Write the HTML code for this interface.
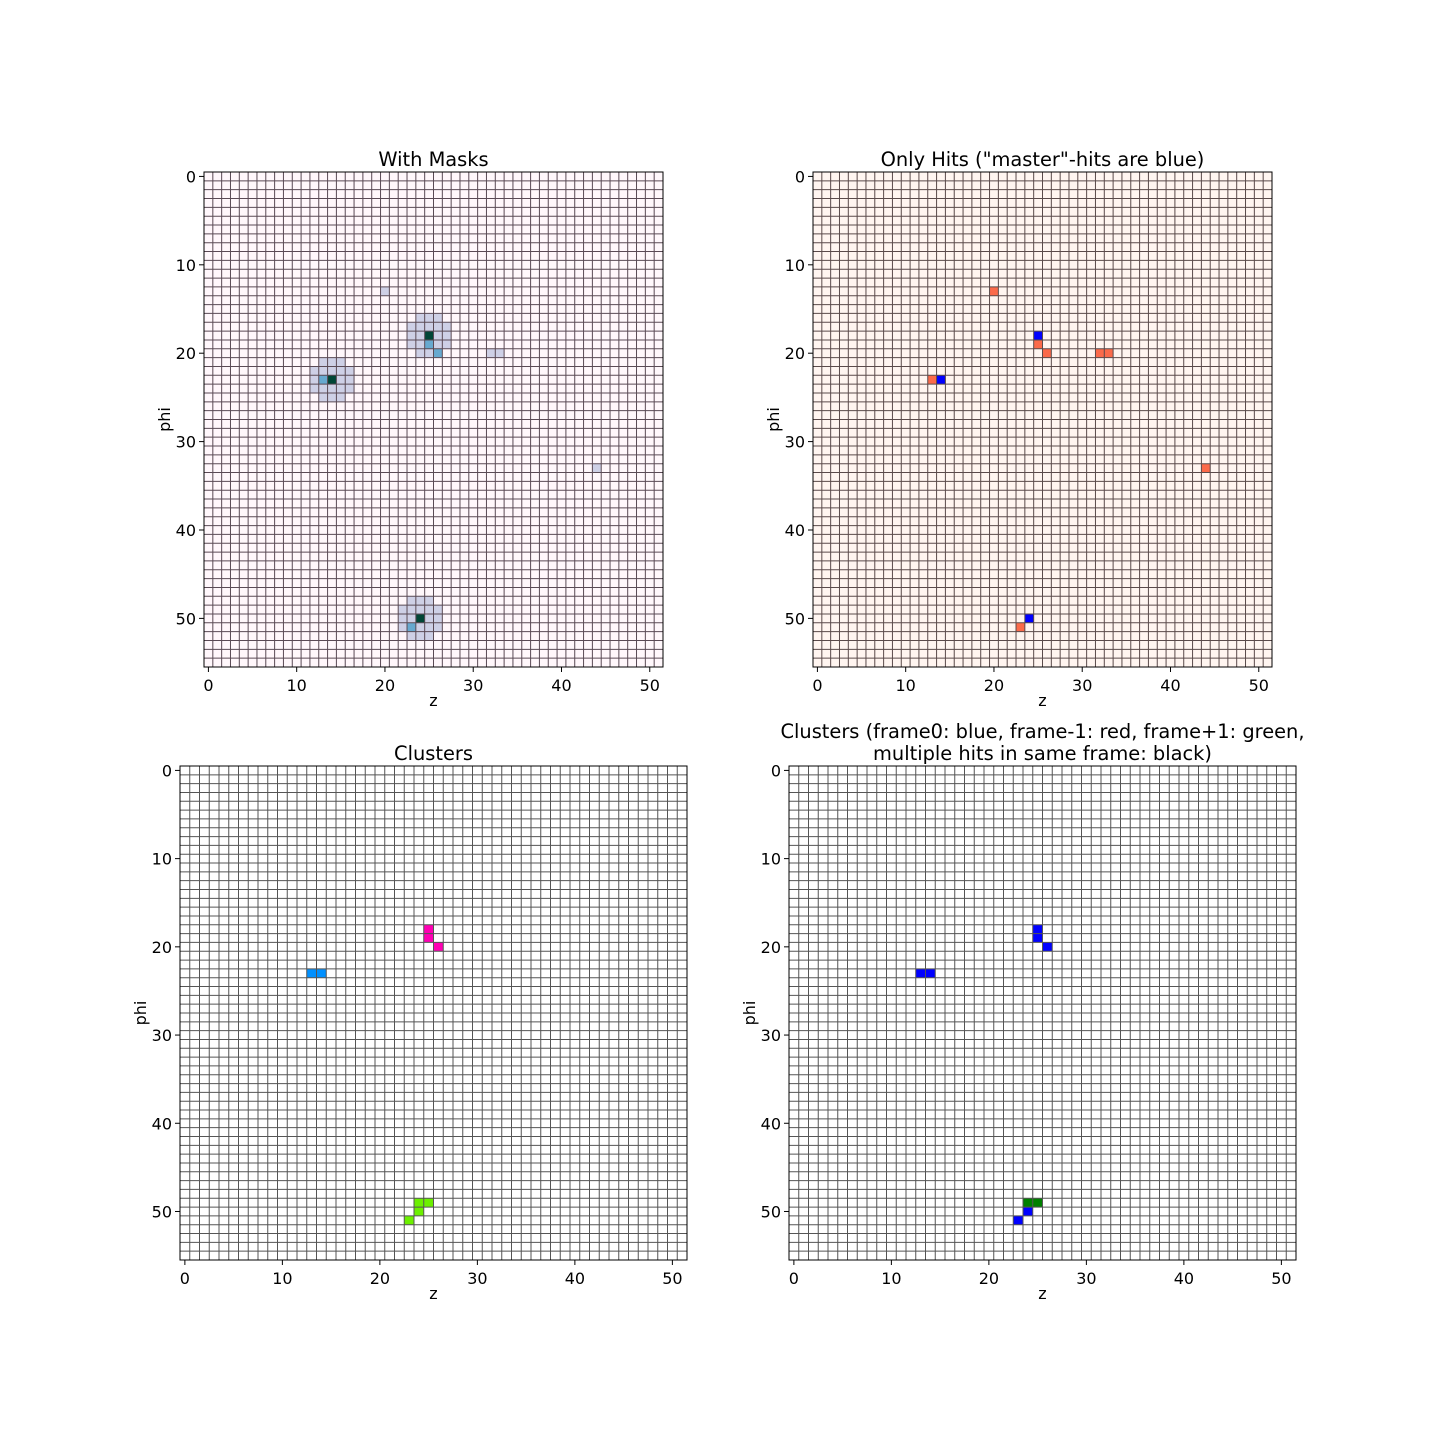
<!DOCTYPE html>
<html><head><meta charset="utf-8"><style>
body{margin:0;background:#fff;width:1440px;height:1440px;overflow:hidden}
svg text{font-family:"DejaVu Sans","Liberation Sans",sans-serif;fill:#000}
</style></head><body>
<svg id="fig" width="1440" height="1440" xmlns="http://www.w3.org/2000/svg"></svg>
<script>
const NCOL = 52, NROW = 56;
const xTicks = [0,10,20,30,40,50];
const yTicks = [0,10,20,30,40,50];
// hits: [z, phi]
const masterHits = [[25,18],[14,23],[24,50]];
const otherHits = [[20,13],[25,19],[26,20],[32,20],[33,20],[13,23],[44,33],[23,51]];
const nearHits = [[25,19],[26,20],[13,23],[23,51]];
const clusterA = [[13,23],[14,23]];
const clusterB = [[25,18],[25,19],[26,20]];
const clusterC = [[24,49],[25,49],[24,50],[23,51]];
const frame0 = [[13,23],[14,23],[25,18],[25,19],[26,20],[24,50],[23,51]];
const framePlus1 = [[24,49],[25,49]];

const NS='http://www.w3.org/2000/svg';
const fig=document.getElementById('fig');
function el(tag,attrs,parent){const e=document.createElementNS(NS,tag);for(const k in attrs)e.setAttribute(k,attrs[k]);(parent||fig).appendChild(e);return e;}

function panel(p){
  const g=el('g',{});
  
  
  const cw=(p.x1-p.x0)/NCOL, ch=(p.y1-p.y0)/NROW;
  const sx=v=>p.x0+(v+0.5)*cw, sy=v=>p.y0+(v+0.5)*ch;
  const bg=el('rect',{x:p.x0,y:p.y0,width:p.x1-p.x0,height:p.y1-p.y0,fill:p.bg},g);
  
  
  p.layers.forEach(L=>{
    L.cells.forEach(c=>{
      const r=el('rect',{x:p.x0+c[0]*cw,y:p.y0+c[1]*ch,width:cw,height:ch,fill:L.color},g);
      
      
    });
  });
  for(let i=0;i<=NCOL;i++){const x=p.x0+i*cw;el('line',{x1:x,x2:x,y1:p.y0,y2:p.y1,stroke:p.grid,'stroke-width':1},g);}
  for(let j=0;j<=NROW;j++){const y=p.y0+j*ch;el('line',{x1:p.x0,x2:p.x1,y1:y,y2:y,stroke:p.grid,'stroke-width':1},g);}
  el('rect',{x:p.x0,y:p.y0,width:p.x1-p.x0,height:p.y1-p.y0,fill:'none',stroke:'#000','stroke-width':1},g);
  xTicks.forEach(t=>{const x=sx(t);el('line',{x1:x,x2:x,y1:p.y1,y2:p.y1+5,stroke:'#000'},g);
    const tx=el('text',{x:x,y:p.y1+24,'font-size':16,'text-anchor':'middle'},g);tx.textContent=t;
    });
  yTicks.forEach(t=>{const y=sy(t);el('line',{x1:p.x0-5,x2:p.x0,y1:y,y2:y,stroke:'#000'},g);
    const tx=el('text',{x:p.x0-8,y:y+6,'font-size':16,'text-anchor':'end'},g);tx.textContent=t;
    });
  const xl=el('text',{x:(p.x0+p.x1)/2,y:p.y1+39,'font-size':16,'text-anchor':'middle'},g);xl.textContent='z';
  
  const yl=el('text',{x:0,y:0,'font-size':16,'text-anchor':'middle',transform:`translate(${p.x0-34},${(p.y0+p.y1)/2}) rotate(-90)`},g);yl.textContent='phi';
  
  p.title.forEach((t,i)=>{const tt=el('text',{x:(p.x0+p.x1)/2,y:p.y0-6-(p.title.length-1-i)*22,'font-size':19.4,'text-anchor':'middle'},g);tt.textContent=t;
    });
}
const mask=[];
masterHits.forEach(m=>{for(let dx=-2;dx<=2;dx++)for(let dy=-2;dy<=2;dy++)if(dx*dx+dy*dy<=5)mask.push([m[0]+dx,m[1]+dy]);});
const farHits=otherHits.filter(h=>!nearHits.some(n=>n[0]===h[0]&&n[1]===h[1]));
panel({name:'with-masks-panel',x0:204,x1:663,y0:172,y1:667,bg:'#fff7fb',grid:'#5a4a55',title:['With Masks'],
  layers:[{cells:mask,color:'#ced0e6'},{cells:farHits,color:'#ced0e6'},{cells:nearHits,color:'#67a9cf'},{cells:masterHits,color:'#014636'}]});
panel({name:'only-hits-panel',x0:813,x1:1272,y0:172,y1:667,bg:'#fff5f0',grid:'#5a4a4a',title:['Only Hits ("master"-hits are blue)'],
  layers:[{cells:otherHits,color:'#fb6a4a'},{cells:masterHits,color:'#0000ff'}]});
panel({name:'clusters-panel',x0:180,x1:687,y0:766,y1:1260,bg:'#ffffff',grid:'#555555',title:['Clusters'],
  layers:[{cells:clusterA,color:'#0090ff'},{cells:clusterB,color:'#ff00b4'},{cells:clusterC,color:'#6cf000'}]});
panel({name:'clusters-frames-panel',x0:789,x1:1296,y0:766,y1:1260,bg:'#ffffff',grid:'#555555',
  title:['Clusters (frame0: blue, frame-1: red, frame+1: green,','multiple hits in same frame: black)'],
  layers:[{cells:frame0,color:'#0000ff'},{cells:framePlus1,color:'#008000'}]});
</script>
</body></html>
